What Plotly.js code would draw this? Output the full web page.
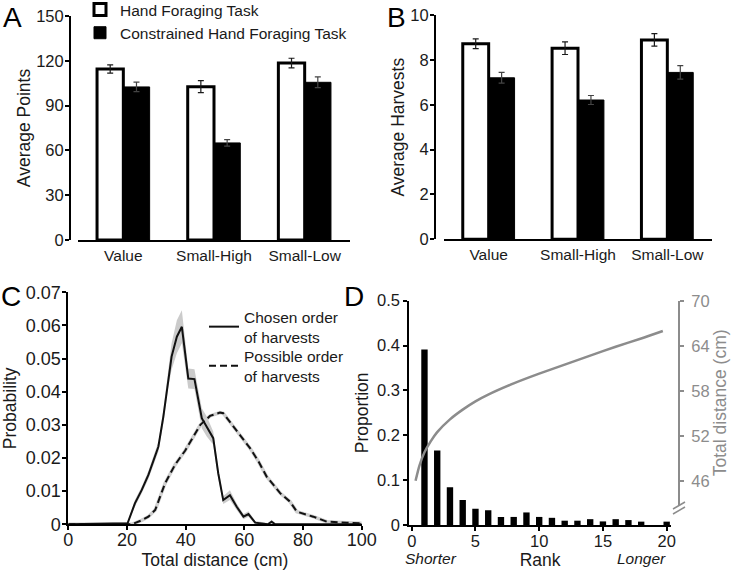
<!DOCTYPE html>
<html><head><meta charset="utf-8">
<script src="https://cdn.plot.ly/plotly-3.0.1.min.js"></script>
<style>html,body{margin:0;padding:0;background:#fff}#chart{width:733px;height:575px}</style>
</head><body><div id="chart"></div>
<script>
// ---- Panel A / B data ----
const categories = ['Value', 'Small-High', 'Small-Low'];
const pointsHand = [114.5, 102.7, 118.5];
const pointsHandErr = [2.8, 4.0, 3.2];
const pointsConstrained = [102.5, 65.0, 105.6];
const pointsConstrainedErr = [3.2, 2.2, 3.6];
const harvestsHand = [8.72, 8.52, 8.89];
const harvestsHandErr = [0.22, 0.28, 0.28];
const harvestsConstrained = [7.20, 6.21, 7.44];
const harvestsConstrainedErr = [0.24, 0.20, 0.30];
const pointsTicks = [0, 30, 60, 90, 120, 150];
const harvestsTicks = [0, 2, 4, 6, 8, 10];

// ---- Panel C data ----
const chosenX = [0, 20.2, 22.7, 25.0, 27.3, 30.7, 32.4, 34.1, 35.2, 37.0, 38.7, 40.9, 43.0, 45.5, 47.2, 49.4, 51.1, 52.8, 55.1, 57.4, 59.7, 61.4, 63.7, 66.5, 68.0, 69.3, 70.5, 100];
const chosenY = [0, 0.0003, 0.0063, 0.0103, 0.0149, 0.0234, 0.0325, 0.0445, 0.0506, 0.0566, 0.0596, 0.0440, 0.0438, 0.0320, 0.0295, 0.0260, 0.0154, 0.0073, 0.0088, 0.0053, 0.0023, 0.0031, 0.0005, 0.0003, 0, 0.0008, 0, 0];
const chosenUpper = [0, 0.0006, 0.0073, 0.0113, 0.0161, 0.0249, 0.0345, 0.0475, 0.0546, 0.0616, 0.0646, 0.0470, 0.0468, 0.0350, 0.0325, 0.0280, 0.0169, 0.0085, 0.0103, 0.0063, 0.0031, 0.0039, 0.0010, 0.0006, 0.0003, 0.0014, 0.0003, 0];
const chosenLower = [0, 0, 0.0053, 0.0093, 0.0137, 0.0219, 0.0305, 0.0415, 0.0466, 0.0516, 0.0546, 0.0410, 0.0408, 0.0290, 0.0265, 0.0240, 0.0139, 0.0061, 0.0073, 0.0043, 0.0015, 0.0023, 0, 0, 0, 0.0002, 0, 0];
const possibleX = [0, 21.6, 25.0, 27.3, 29.6, 33.0, 36.4, 39.8, 43.0, 45.0, 48.3, 51.7, 52.8, 56.3, 59.7, 62.0, 64.8, 67.6, 70.0, 72.2, 75.6, 77.9, 83.5, 88.1, 94.9, 100];
const possibleY = [0, 0, 0.0012, 0.0023, 0.0043, 0.0124, 0.0180, 0.0222, 0.0270, 0.0300, 0.0327, 0.0337, 0.0335, 0.0295, 0.0254, 0.0229, 0.0190, 0.0144, 0.0118, 0.0094, 0.0068, 0.0038, 0.0023, 0.0008, 0.0005, 0.0003];
const distTicks = [0, 20, 40, 60, 80, 100];
const probTicks = [0, 0.01, 0.02, 0.03, 0.04, 0.05, 0.06, 0.07];

// ---- Panel D data ----
const ranks = [1, 2, 3, 4, 5, 6, 7, 8, 9, 10, 11, 12, 13, 14, 15, 16, 17, 18, 19, 20];
const proportion = [0.391, 0.166, 0.084, 0.056, 0.036, 0.033, 0.018, 0.018, 0.028, 0.018, 0.016, 0.0096, 0.0096, 0.013, 0.008, 0.013, 0.011, 0.0075, 0, 0.0075];
const curveRank = [0.3, 0.6, 1.0, 1.5, 2.0, 3.0, 4.0, 5.0, 6.0, 8.0, 10.0, 12.0, 14.0, 16.0, 18.0, 19.7];
const curveDistance = [46.0, 48.0, 49.8, 51.3, 52.5, 54.2, 55.5, 56.6, 57.5, 59.0, 60.3, 61.5, 62.7, 63.9, 65.0, 66.0];
const rankTicks = [0, 5, 10, 15, 20];
const propTicks = [0, 0.1, 0.2, 0.3, 0.4, 0.5];
const distRightTicks = [46, 52, 58, 64, 70];

const FONT = 'Liberation Sans, Arial, Helvetica, sans-serif';
const GRAY = '#8c8c8c';
const W = 733, H = 575;
const px = v => v / W;
const py = v => 1 - v / H;

const errStyle = {type: 'data', visible: true, color: '#1a1a1a', thickness: 1.2, width: 3};

const traces = [
  {type: 'bar', x: categories, y: pointsHand, name: 'Hand Foraging Task', xaxis: 'x', yaxis: 'y',
   marker: {color: '#ffffff', line: {color: '#000', width: 3}},
   error_y: Object.assign({array: pointsHandErr}, errStyle), legend: 'legend'},
  {type: 'bar', x: categories, y: pointsConstrained, name: 'Constrained Hand Foraging Task', xaxis: 'x', yaxis: 'y',
   marker: {color: '#000000', line: {color: '#000', width: 1}},
   error_y: Object.assign({array: pointsConstrainedErr}, errStyle, {color: '#444'}), legend: 'legend'},
  {type: 'bar', x: categories, y: harvestsHand, name: 'Hand Foraging Task', xaxis: 'x2', yaxis: 'y2', showlegend: false,
   marker: {color: '#ffffff', line: {color: '#000', width: 3}},
   error_y: Object.assign({array: harvestsHandErr}, errStyle)},
  {type: 'bar', x: categories, y: harvestsConstrained, name: 'Constrained Hand Foraging Task', xaxis: 'x2', yaxis: 'y2', showlegend: false,
   marker: {color: '#000000', line: {color: '#000', width: 1}},
   error_y: Object.assign({array: harvestsConstrainedErr}, errStyle, {color: '#444'})},
  // Panel C
  {type: 'scatter', mode: 'lines', x: chosenX.concat(chosenX.slice().reverse()),
   y: chosenUpper.concat(chosenLower.slice().reverse()), fill: 'toself', fillcolor: 'rgba(190,190,190,0.8)',
   line: {width: 0}, xaxis: 'x3', yaxis: 'y3', showlegend: false, hoverinfo: 'skip'},
  {type: 'scatter', mode: 'lines', x: possibleX, y: possibleY, xaxis: 'x3', yaxis: 'y3', showlegend: false,
   line: {color: '#cfcfcf', width: 3.5}, hoverinfo: 'skip'},
  {type: 'scatter', mode: 'lines', x: chosenX, y: chosenY, name: 'Chosen order<br>of harvests', xaxis: 'x3', yaxis: 'y3',
   line: {color: '#111', width: 2}, legend: 'legend2'},
  {type: 'scatter', mode: 'lines', x: possibleX, y: possibleY, name: 'Possible order<br>of harvests', xaxis: 'x3', yaxis: 'y3',
   line: {color: '#111', width: 2, dash: '7px,4px'}, legend: 'legend3'},
  // Panel D
  {type: 'bar', x: ranks, y: proportion, xaxis: 'x4', yaxis: 'y4', width: 0.5, showlegend: false,
   marker: {color: '#000', line: {width: 0}}},
  {type: 'scatter', mode: 'lines', x: curveRank, y: curveDistance, xaxis: 'x4', yaxis: 'y5', showlegend: false,
   line: {color: GRAY, width: 2.5, shape: 'spline', smoothing: 0.6}}
];

const baseAxis = {showgrid: false, zeroline: false, showline: true, linecolor: '#000', linewidth: 2,
  tickcolor: '#000', tickwidth: 2, ticklen: 4, ticks: 'outside', fixedrange: true,
  tickfont: {family: FONT, size: 16.5, color: '#1a1a1a'}};
const ttl = (t, s) => ({text: t, font: {family: FONT, size: 17.5, color: '#1a1a1a'}, standoff: s});
const legFont = {family: FONT, size: 15.5, color: '#1a1a1a'};

const layout = {
  width: W, height: H, margin: {l: 0, r: 0, t: 0, b: 0, autoexpand: false}, paper_bgcolor: '#fff', plot_bgcolor: 'rgba(0,0,0,0)',
  showlegend: true, barmode: 'group', bargap: 0.42, bargroupgap: 0,
  font: {family: FONT, color: '#1a1a1a'},
  xaxis: Object.assign({}, baseAxis, {domain: [px(78), px(350)], anchor: 'y', type: 'category', range: [-0.5, 2.5], ticks: '',
    tickfont: {family: FONT, size: 15.5, color: '#1a1a1a'}}),
  yaxis: Object.assign({}, baseAxis, {domain: [py(240), py(16)], anchor: 'free', position: px(70), range: [0, 150],
    tickvals: pointsTicks, ticklabelstandoff: -2, title: ttl('Average Points', 0)}),
  xaxis2: Object.assign({}, baseAxis, {domain: [px(444), px(712)], anchor: 'y2', type: 'category', range: [-0.5, 2.5], ticks: '',
    tickfont: {family: FONT, size: 15.5, color: '#1a1a1a'}}),
  yaxis2: Object.assign({}, baseAxis, {domain: [py(239.3), py(15)], anchor: 'free', position: px(435), range: [0, 10],
    tickvals: harvestsTicks, ticklabelstandoff: -2, title: ttl('Average Harvests', 0)}),
  xaxis3: Object.assign({}, baseAxis, {domain: [px(68.3), px(361.7)], anchor: 'y3', range: [0, 100], tickvals: distTicks,
    tickfont: {family: FONT, size: 18, color: '#1a1a1a'}, ticklabelstandoff: -6, title: ttl('Total distance (cm)', 4)}),
  yaxis3: Object.assign({}, baseAxis, {domain: [py(524.3), py(292.3)], anchor: 'x3', range: [0, 0.07], tickvals: probTicks,
    tickfont: {family: FONT, size: 18, color: '#1a1a1a'}, ticklabelstandoff: -2, title: ttl('Probability', 8)}),
  xaxis4: Object.assign({}, baseAxis, {domain: [px(409.3), px(671)], anchor: 'y4', range: [-0.19, 20.34], tickvals: rankTicks,
    ticklabelstandoff: -4, title: ttl('Rank', 4)}),
  yaxis4: Object.assign({}, baseAxis, {domain: [py(525), py(300.7)], anchor: 'x4', range: [0, 0.5], tickvals: propTicks,
    title: ttl('Proportion', 4)}),
  yaxis5: Object.assign({}, baseAxis, {domain: [py(505), py(300.7)], anchor: 'free', position: px(679), side: 'right',
    range: [42.77, 70.04], tickvals: distRightTicks, linecolor: GRAY, tickcolor: GRAY, ticklabelstandoff: 4,
    tickfont: {family: FONT, size: 16.5, color: GRAY},
    title: {text: 'Total distance (cm)', font: {family: FONT, size: 17.5, color: GRAY}, standoff: 0}}),
  legend: {x: px(80), y: py(-7), xanchor: 'left', yanchor: 'top', bgcolor: 'rgba(0,0,0,0)', font: legFont, tracegroupgap: 0},
  legend2: {x: px(204), y: py(300), xanchor: 'left', yanchor: 'top', bgcolor: 'rgba(0,0,0,0)', font: legFont, valign: 'middle'},
  legend3: {x: px(204), y: py(339), xanchor: 'left', yanchor: 'top', bgcolor: 'rgba(0,0,0,0)', font: legFont, valign: 'middle'},
  shapes: [
    {type: 'line', xref: 'paper', yref: 'paper', x0: px(673), y0: py(509), x1: px(685), y1: py(502), line: {color: GRAY, width: 1.5}},
    {type: 'line', xref: 'paper', yref: 'paper', x0: px(673), y0: py(514), x1: px(685), y1: py(507), line: {color: GRAY, width: 1.5}}
  ],
  annotations: [
    {text: 'A', x: px(12), y: py(18), xref: 'paper', yref: 'paper', showarrow: false, xanchor: 'center', yanchor: 'middle', font: {family: FONT, size: 28, color: '#000'}},
    {text: 'B', x: px(396), y: py(18), xref: 'paper', yref: 'paper', showarrow: false, xanchor: 'center', yanchor: 'middle', font: {family: FONT, size: 28, color: '#000'}},
    {text: 'C', x: px(11), y: py(296), xref: 'paper', yref: 'paper', showarrow: false, xanchor: 'center', yanchor: 'middle', font: {family: FONT, size: 28, color: '#000'}},
    {text: 'D', x: px(354), y: py(296), xref: 'paper', yref: 'paper', showarrow: false, xanchor: 'center', yanchor: 'middle', font: {family: FONT, size: 28, color: '#000'}},
    {text: '<i>Shorter</i>', x: px(431), y: py(558), xref: 'paper', yref: 'paper', showarrow: false, xanchor: 'center', yanchor: 'middle', font: {family: FONT, size: 15.5, color: '#1a1a1a'}},
    {text: '<i>Longer</i>', x: px(641), y: py(558), xref: 'paper', yref: 'paper', showarrow: false, xanchor: 'center', yanchor: 'middle', font: {family: FONT, size: 15.5, color: '#1a1a1a'}}
  ]
};

Plotly.newPlot('chart', traces, layout, {displayModeBar: false, staticPlot: true});
</script>
</body></html>
